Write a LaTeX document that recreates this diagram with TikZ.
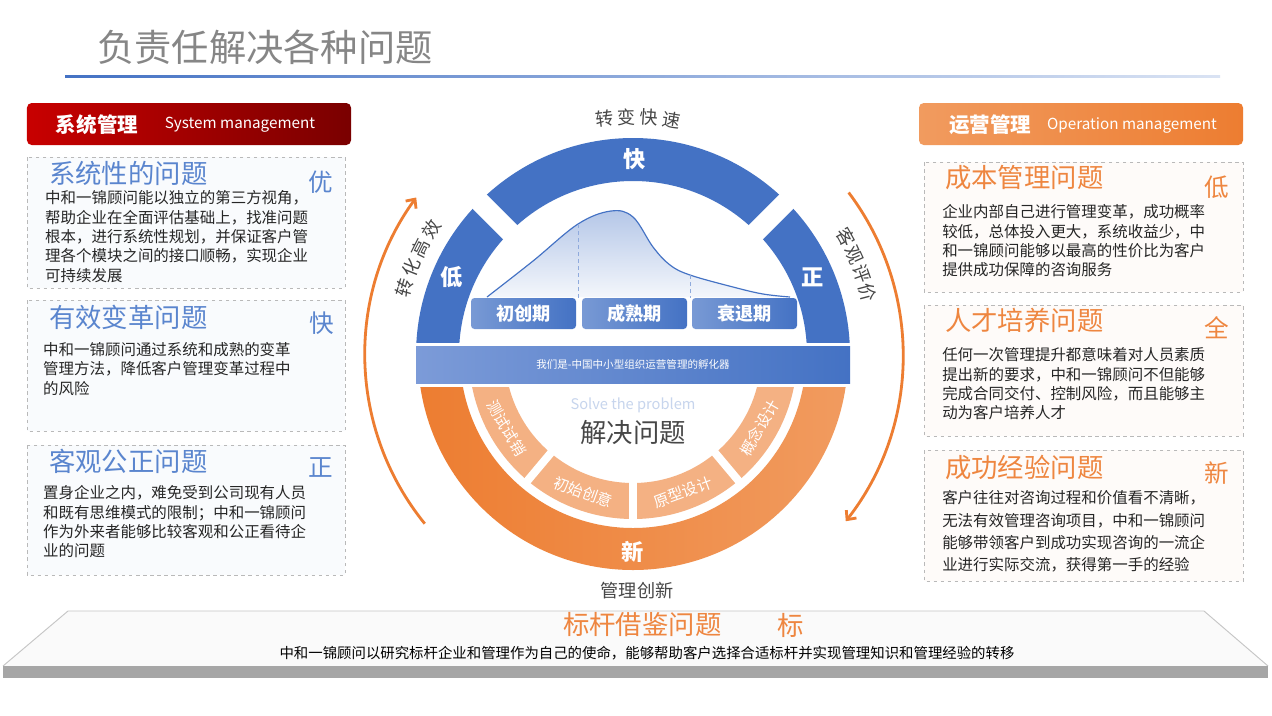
\documentclass[tikz,border=0pt]{standalone}
\usepackage{fontspec}
\setmainfont{Noto Sans CJK SC}
\usetikzlibrary{positioning,arrows.meta,calc,shapes}
\definecolor{ppblue}{HTML}{4472C4}
\definecolor{ppbandblue}{HTML}{7C9BD8}
\definecolor{pporange}{HTML}{ED7D31}
\definecolor{pplightorange}{HTML}{F4B183}
\definecolor{ppbrightorange}{HTML}{F19B5F}
\definecolor{ppred}{HTML}{C80000}
\definecolor{ppdarkred}{HTML}{7A0000}
\definecolor{pptitleblue}{HTML}{5A85CE}
\definecolor{pptitleorange}{HTML}{EE8640}
\definecolor{pptext}{HTML}{262626}
\tikzstyle{pagetitle}=[anchor=west,inner sep=0pt,text=gray!95,font=\fontsize{31.8pt}{33pt}\selectfont]
\tikzstyle{hdrbox}=[rounded corners=4pt,minimum width=9.72cm,minimum height=1.26cm]
\tikzstyle{hdrcn}=[inner sep=0pt,text=white,font=\bfseries\fontsize{17.5pt}{18pt}\selectfont]
\tikzstyle{hdren}=[inner sep=0pt,text=white,font=\fontsize{13pt}{14pt}\selectfont]
\tikzstyle{panel}=[draw=gray!55,dashed,line width=0.6pt]
\tikzstyle{leftttl}=[anchor=west,inner sep=0pt,text=pptitleblue,font=\fontsize{22.5pt}{24pt}\selectfont]
\tikzstyle{rightttl}=[leftttl,text=pptitleorange]
\tikzstyle{lefttag}=[inner sep=0pt,text=pptitleblue,font=\fontsize{21pt}{22pt}\selectfont]
\tikzstyle{righttag}=[lefttag,text=pptitleorange]
\tikzstyle{bodytext}=[anchor=west,align=left,inner sep=0pt,text=pptext,font=\fontsize{13.2pt}{16.5pt}\selectfont]
\tikzstyle{ringchar}=[inner sep=0pt,text=white,font=\bfseries\fontsize{19pt}{20pt}\selectfont]
\tikzstyle{stagebox}=[rounded corners=3pt,minimum width=3.15cm,minimum height=0.93cm,left color=ppblue!72,right color=ppblue,text=white,font=\bfseries\fontsize{15.5pt}{16pt}\selectfont]
\tikzstyle{arclabel}=[inner sep=0pt,text=pptext!85,font=\fontsize{15.5pt}{16pt}\selectfont]
\tikzstyle{seglabel}=[inner sep=0pt,text=white,font=\fontsize{13pt}{14pt}\selectfont]
\tikzstyle{gap}=[white,line width=0.6cm]
\tikzstyle{thingap}=[white,line width=0.24cm]
\tikzstyle{flow}=[pporange,line width=2.4pt,-{Straight Barb[length=6pt,width=11pt]}]

\begin{document}
\begin{tikzpicture}[x=0.03cm,y=-0.03cm]
  \useasboundingbox (0,0) rectangle (1272,715);
  \fill[white] (0,0) rectangle (1272,715);

  % page title
  \node[pagetitle] (pageTitle) at (97,47) {负责任解决各种问题};
  \shade[left color=ppblue,right color=ppblue!20] (65,75) rectangle (1220,77.5);

  % headers
  \node[hdrbox,left color=ppred,right color=ppdarkred] (sysHdr) at (189,124) {};
  \node[hdrcn] (sysCn) at (97,125) {系统管理};
  \node[hdren] (sysEn) at (240,125) {System management};
  \node[hdrbox,left color=ppbrightorange,right color=pporange] (opHdr) at (1081,124) {};
  \node[hdrcn] (opCn) at (990,125) {运营管理};
  \node[hdren] (opEn) at (1132,125) {Operation management};

  % problem panels
  \foreach \ya/\yb in {157/288, 300/431, 445/575}
    \draw[panel,fill=ppblue!3] (27,\ya) rectangle (345,\yb);
  \foreach \ya/\yb in {162/292, 305/436, 450/581}
    \draw[panel,fill=pporange!3] (924,\ya) rectangle (1243,\yb);

  \node[leftttl] (sysTtl) at (49,173) {系统性的问题};
  \node[lefttag] (sysTag) at (321,182) {优};
  \node[bodytext] (sysTxt) at (45,236.5) {中和一锦顾问能以独立的第三方视角，\\帮助企业在全面评估基础上，找准问题\\根本，进行系统性规划，并保证客户管\\理各个模块之间的接口顺畅，实现企业\\可持续发展};
  \node[leftttl] (effTtl) at (49,317) {有效变革问题};
  \node[lefttag] (effTag) at (322,323) {快};
  \node[bodytext] (effTxt) at (43,369) {中和一锦顾问通过系统和成熟的变革\\管理方法，降低客户管理变革过程中\\的风险};
  \node[leftttl] (objTtl) at (49,461) {客观公正问题};
  \node[lefttag] (objTag) at (321,467) {正};
  \node[bodytext] (objTxt) at (43,522) {置身企业之内，难免受到公司现有人员\\和既有思维模式的限制；中和一锦顾问\\作为外来者能够比较客观和公正看待企\\业的问题};

  \node[rightttl] (costTtl) at (945,178) {成本管理问题};
  \node[righttag] (costTag) at (1217,187) {低};
  \node[bodytext] (costTxt) at (942,241) {企业内部自己进行管理变革，成功概率\\较低，总体投入更大，系统收益少，中\\和一锦顾问能够以最高的性价比为客户\\提供成功保障的咨询服务};
  \node[rightttl] (talentTtl) at (945,320) {人才培养问题};
  \node[righttag] (talentTag) at (1217,328) {全};
  \node[bodytext] (talentTxt) at (942,384) {任何一次管理提升都意味着对人员素质\\提出新的要求，中和一锦顾问不但能够\\完成合同交付、控制风险，而且能够主\\动为客户培养人才};
  \node[rightttl] (expTtl) at (945,467) {成功经验问题};
  \node[righttag] (expTag) at (1217,473) {新};
  \node[bodytext,font=\fontsize{13.2pt}{19.2pt}\selectfont] (expTxt) at (942,531.5) {客户往往对咨询过程和价值看不清晰，\\无法有效管理咨询项目，中和一锦顾问\\能够带领客户到成功实现咨询的一流企\\业进行实际交流，获得第一手的经验};

  % centre wheel
  \begin{scope}[shift={(633,355)},y=0.03cm]
    \begin{scope}
      \clip (-240,13) rectangle (240,240);
      \fill[ppblue] (0:217) arc (0:180:217) -- (180:174) arc (180:0:174) -- cycle;
    \end{scope}
    \draw[gap] (135:165) -- (135:226);
    \draw[gap] (45:165) -- (45:226);
    \node[ringchar] (fastCh) at (2,196) {快};
    \node[ringchar] (lowCh) at (-181,78) {低};
    \node[ringchar] (fairCh) at (180,78) {正};

    \shade[top color=ppblue!40,bottom color=ppblue!6]
      plot[smooth,tension=0.6] coordinates {(-146,58) (-100,94) (-55,131) (-22,144) (0,138) (20,108) (37,90) (57,80) (100,68) (130,61) (157,58)} -- cycle;
    \draw[ppblue,line width=1pt]
      plot[smooth,tension=0.6] coordinates {(-146,58) (-100,94) (-55,131) (-22,144) (0,138) (20,108) (37,90) (57,80) (100,68) (130,61) (157,58)};
    \draw[ppblue!60,dashed,line width=0.8pt] (-55,131) -- (-55,57);
    \draw[ppblue!60,dashed,line width=0.8pt] (57,80) -- (57,57);

    \node[stagebox] (startUp) at (-109.5,41.5) {初创期};
    \node[stagebox] (mature) at (1.5,41.5) {成熟期};
    \node[stagebox] (decline) at (111.5,41.5) {衰退期};

    \shade[left color=ppbandblue,right color=ppblue] (-217,9) rectangle (217,-28);
    \node[inner sep=0pt,text=white,font=\fontsize{9pt}{10pt}\selectfont] (bandTxt) at (0,-9.5) {我们是-中国中小型组织运营管理的孵化器};

    \begin{scope}
      \clip (-240,-32) rectangle (240,-240);
      \shade[left color=pporange,right color=ppbrightorange] (0:215) arc (0:-180:215) -- (180:173) arc (-180:0:173) -- cycle;
      \fill[pplightorange] (0:164) arc (0:-180:164) -- (180:128) arc (-180:0:128) -- cycle;
    \end{scope}
    \foreach \a in {-130,-90,-50}
      \draw[thingap] (\a:120) -- (\a:170);
    \foreach \a/\t [count=\i] in {-150/测试试销, -110/初始创意, -70/原型设计, -30/概念设计}
      \node[seglabel,rotate=\a+90] (seg\i) at (\a:146) {\t};

    \node[inner sep=0pt,text=ppblue!30,font=\fontsize{12.5pt}{13pt}\selectfont] (solveEn) at (0,-50) {Solve the problem};
    \node[inner sep=0pt,text=pptext!85,font=\fontsize{22.5pt}{24pt}\selectfont] (solveCn) at (0,-77) {解决问题};
    \node[ringchar] (newCh) at (0,-197) {新};

    % curved captions round the wheel
    \foreach \a/\t [count=\i] in {96.9/转,91.5/变,86.1/快,80.7/速}
      \node[arclabel,rotate=\a-90] (topc\i) at (\a:238) {\t};
    \foreach \a/\t [count=\i] in {163.7/转,158.5/化,153.3/高,148.1/效}
      \node[arclabel,rotate=\a-90] (leftc\i) at (\a:238) {\t};
    \foreach \a/\t [count=\i] in {29/客,24.3/观,19.6/评,14.9/价}
      \node[arclabel,rotate=\a-90] (rightc\i) at (\a:243) {\t};
    \node[arclabel] (innovCap) at (4,-236) {管理创新};

    \coordinate (flowL) at (219:268);
    \coordinate (flowR) at (37:270);
    \draw[flow] (flowL) arc (219:144:268);
    \draw[flow] (flowR) arc (37:-38:270);
  \end{scope}

  % benchmark platform
  \fill[gray!4] (68,611) -- (1204,611) -- (1268,666) -- (3,666) -- cycle;
  \draw[gray!45,line width=0.8pt] (3,666) -- (68,611) -- (1204,611) -- (1268,666);
  \fill[gray!70] (3,666) rectangle (1268,678);
  \node[rightttl] (benchTtl) at (563,625) {标杆借鉴问题};
  \node[righttag,font=\fontsize{22.5pt}{24pt}\selectfont] (benchTag) at (791,625) {标};
  \node[inner sep=0pt,text=black,font=\fontsize{12.3pt}{13pt}\selectfont] (benchTxt) at (647,653) {中和一锦顾问以研究标杆企业和管理作为自己的使命，能够帮助客户选择合适标杆并实现管理知识和管理经验的转移};
\end{tikzpicture}
\end{document}
